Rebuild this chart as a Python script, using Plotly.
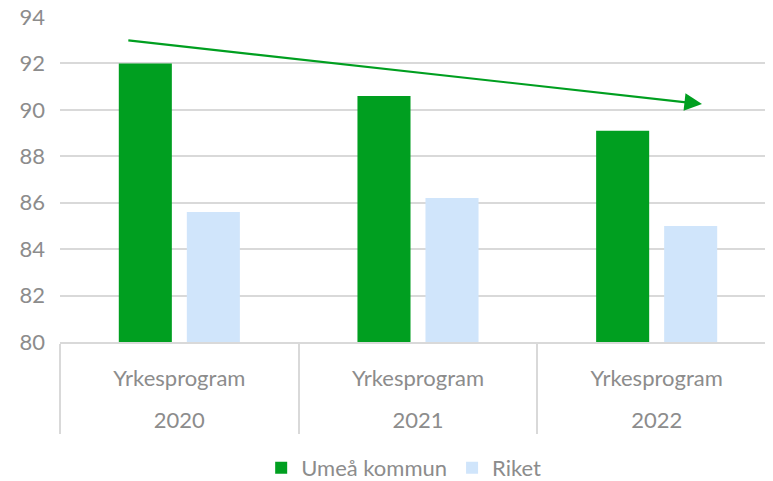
import plotly.graph_objects as go

years = ["2020", "2021", "2022"]
program = ["Yrkesprogram", "Yrkesprogram", "Yrkesprogram"]
umea = [92.0, 90.6, 89.1]
riket = [85.6, 86.2, 85.0]
yticks = [80, 82, 84, 86, 88, 90, 92, 94]

GREEN = "#009F20"
BLUE = "#D0E5FB"
GREY = "#8C8C8C"
FONT = "Lato, Open Sans, sans-serif"
FS = 22

outer = ["<br>" + y for y in years]

fig = go.Figure()
fig.add_trace(go.Bar(name="Umeå kommun", x=[outer, program], y=umea,
                     marker=dict(color=GREEN, line_width=0)))
fig.add_trace(go.Bar(name="Riket", x=[outer, program], y=riket,
                     marker=dict(color=BLUE, line_width=0)))

# trend arrow drawn on an invisible numeric overlay axis aligned with categories
fig.add_annotation(x=2.19, y=90.25, xref="x2", yref="y",
                   ax=-0.22, ay=93.0, axref="x2", ayref="y",
                   showarrow=True, arrowhead=2, arrowsize=1.6, arrowwidth=2.2,
                   arrowcolor=GREEN, text="")

fig.update_layout(
    width=773, height=481,
    margin=dict(l=52, r=5, t=9, b=147),
    plot_bgcolor="white", paper_bgcolor="white",
    barmode="group", bargap=0.43, bargroupgap=0.22,
    font=dict(family=FONT, size=FS, color=GREY),
    showlegend=True,
    legend=dict(orientation="h", x=0.48, xanchor="center",
                yref="container", y=0.044, yanchor="middle",
                font=dict(size=FS, color=GREY), itemwidth=30, traceorder="normal"),
    xaxis=dict(type="multicategory", showline=True, linecolor="#D9D9D9", linewidth=1.5,
               showdividers=True, dividercolor="#D9D9D9", dividerwidth=1.5,
               tickfont=dict(size=FS, color=GREY), ticks="", automargin=False,
               ticklabelstandoff=16),
    xaxis2=dict(overlaying="x", range=[-0.5, 2.5], visible=False),
    yaxis=dict(range=[80, 94], tickvals=yticks, showgrid=True, gridcolor="#D9D9D9",
               gridwidth=1.5, zeroline=False, showline=False, ticks="",
               tickfont=dict(size=FS, color=GREY), ticklabelstandoff=14,
               ticklabeloverflow="allow", automargin=False),
)

fig.write_html("out.html")
